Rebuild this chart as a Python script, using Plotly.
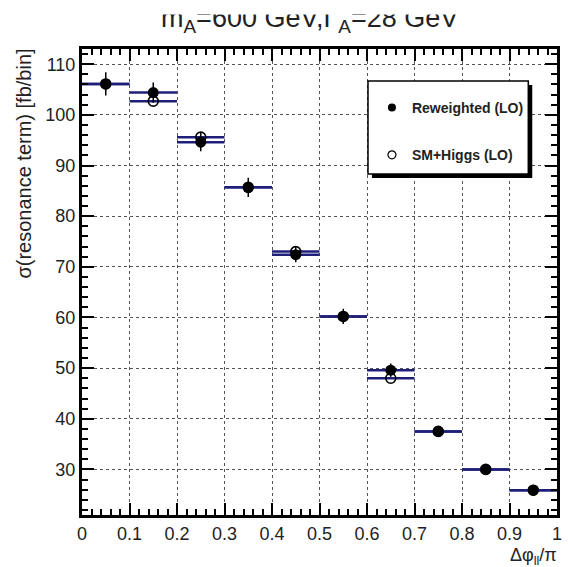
import plotly.graph_objects as go

# ---------------- data ----------------
BIN_CENTERS = [0.05, 0.15, 0.25, 0.35, 0.45, 0.55, 0.65, 0.75, 0.85, 0.95]
BIN_HALF_WIDTH = 0.05
REWEIGHTED = [106.1, 104.4, 94.6, 85.7, 72.4, 60.2, 49.6, 37.5, 30.0, 25.9]
REWEIGHTED_ERR = [2.3, 2.0, 1.8, 1.9, 1.5, 1.5, 1.3, 0.9, 0.7, 0.6]
SM_HIGGS = [106.1, 102.7, 95.6, 85.7, 73.0, 60.2, 48.0, 37.5, 30.0, 25.9]
X_TICKS = [0, 0.1, 0.2, 0.3, 0.4, 0.5, 0.6, 0.7, 0.8, 0.9, 1]
Y_TICKS = [30, 40, 50, 60, 70, 80, 90, 100, 110]
SERIES_NAMES = ["Reweighted (LO)", "SM+Higgs (LO)"]
TITLE = "m<sub>A</sub>=600 GeV,Γ<sub>A</sub>=28 GeV"
Y_TITLE = "σ(resonance term) [fb/bin]"
X_TITLE = "Δφ<sub>ll</sub>/π"

FONT = "Liberation Sans, Arial, Helvetica, sans-serif"
NAVY = "#1f1f7a"

W, H = 568, 567
ML, MR, MT, MB = 82, 6, 49, 52
PW, PH = W - ML - MR, H - MT - MB


def px_x(p):
    return (p - ML) / PW


def px_y(p):
    return (H - MB - p) / PH


fig = go.Figure()

# open markers (drawn first, underneath)
fig.add_trace(go.Scatter(
    x=BIN_CENTERS, y=SM_HIGGS, mode="markers", showlegend=False,
    marker=dict(symbol="circle-open", size=10, color="black", line=dict(width=1.6)),
    error_x=dict(type="constant", value=BIN_HALF_WIDTH, color=NAVY, thickness=2.5, width=0),
))
# filled markers
fig.add_trace(go.Scatter(
    x=BIN_CENTERS, y=REWEIGHTED, mode="markers", showlegend=False,
    marker=dict(symbol="circle", size=11, color="black"),
    error_x=dict(type="constant", value=BIN_HALF_WIDTH, color=NAVY, thickness=2.5, width=0),
    error_y=dict(type="data", array=REWEIGHTED_ERR, color="black", thickness=1.5, width=0),
))

# legend-only entries
fig.add_trace(go.Scatter(x=[None], y=[None], mode="markers", name=SERIES_NAMES[0],
                         legendgroup="a", marker=dict(symbol="circle", size=8, color="black")))
fig.add_trace(go.Scatter(x=[None], y=[None], mode="markers", name=SERIES_NAMES[1],
                         legendgroup="b", marker=dict(symbol="circle-open", size=8, color="black",
                                                      line=dict(width=1.2))))

axis_common = dict(
    showline=True, linewidth=3, linecolor="black", mirror="allticks",
    ticks="inside", ticklen=12, tickwidth=2, tickcolor="black",
    showgrid=True, gridcolor="#555", griddash="dot", gridwidth=1,
    zeroline=False,
    tickfont=dict(family=FONT, size=18, color="#222"),
)

fig.update_xaxes(range=[0, 1], tickvals=X_TICKS,
                 minor=dict(ticks="inside", ticklen=6, tickwidth=2, dtick=0.02, tickcolor="black", showgrid=False),
                 **axis_common)
fig.update_yaxes(range=[21, 113], tickvals=Y_TICKS,
                 minor=dict(ticks="inside", ticklen=6, tickwidth=2, dtick=2, tickcolor="black", showgrid=False),
                 **axis_common)

# legend box with shadow
fig.add_shape(type="rect", xref="paper", yref="paper", layer="above",
              x0=px_x(375), x1=px_x(537), y0=px_y(178), y1=px_y(85),
              fillcolor="black", line=dict(width=0))
fig.add_shape(type="rect", xref="paper", yref="paper", layer="above",
              x0=px_x(371), x1=px_x(533), y0=px_y(174), y1=px_y(81),
              fillcolor="white", line=dict(color="black", width=1.5))

fig.add_annotation(text=TITLE, xref="paper", yref="paper", x=px_x(312), y=px_y(20),
                   xanchor="center", yanchor="middle", showarrow=False,
                   font=dict(family=FONT, size=27, color="#222"))
# the reference title is cut off along its top edge
fig.add_annotation(text="&nbsp;", xref="paper", yref="paper", x=px_x(312), y=px_y(0),
                   xanchor="center", yanchor="top", showarrow=False,
                   width=360, height=13, borderpad=0, bgcolor="white",
                   font=dict(family=FONT, size=8, color="white"))
fig.add_annotation(text=Y_TITLE, xref="paper", yref="paper", x=px_x(23), y=px_y(47),
                   xanchor="center", yanchor="top", textangle=-90, showarrow=False,
                   font=dict(family=FONT, size=20, color="#222"))
fig.add_annotation(text=X_TITLE, xref="paper", yref="paper", x=px_x(564), y=px_y(556),
                   xanchor="right", yanchor="middle", showarrow=False,
                   font=dict(family=FONT, size=18, color="#222"))

fig.update_layout(
    width=W, height=H,
    margin=dict(l=ML, r=MR, t=MT, b=MB),
    paper_bgcolor="white", plot_bgcolor="white",
    font=dict(family=FONT, color="#222"),
    legend=dict(x=px_x(375), y=px_y(92), xanchor="left", yanchor="top",
                bgcolor="rgba(0,0,0,0)", borderwidth=0,
                traceorder="grouped", tracegroupgap=26,
                font=dict(family=FONT, size=14, color="#222", weight="bold")),
)

fig.write_html("out.html")
